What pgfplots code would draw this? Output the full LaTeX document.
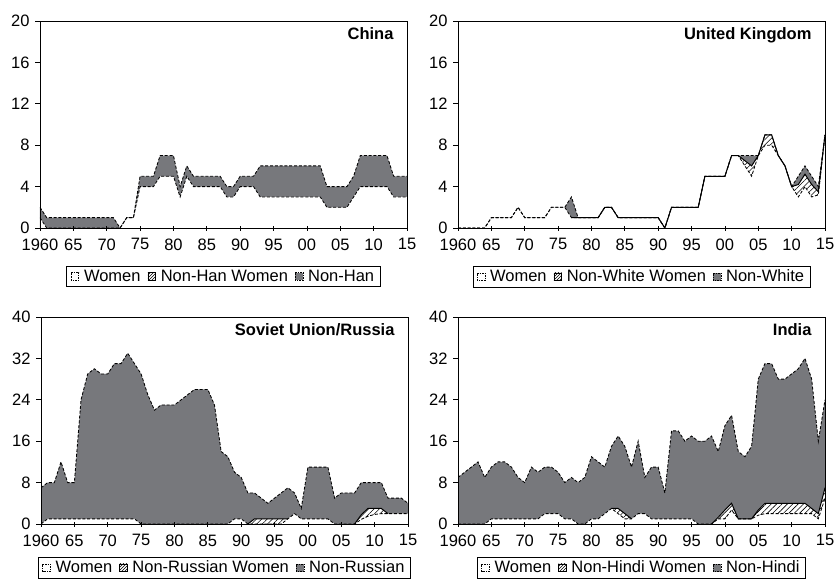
\documentclass[border=0pt]{standalone}
\usepackage{fontspec}
\setmainfont{Liberation Sans}
\usepackage{pgfplots}
\pgfplotsset{compat=1.18}
\usepackage{pgfplotstable}
\usetikzlibrary{patterns,patterns.meta}
\definecolor{ngray}{RGB}{119,120,124}
\newcommand\lf{\fontsize{16.5}{19}\selectfont}

\pgfplotstableread{
year G W
1960 2 1
1961 1 0
1962 1 0
1963 1 0
1964 1 0
1965 1 0
1966 1 0
1967 1 0
1968 1 0
1969 1 0
1970 1 0
1971 1 0
1972 0 0
1973 1 1
1974 1 1
1975 5 4
1976 5 4
1977 5 4
1978 7 5
1979 7 5
1980 7 5
1981 4 3
1982 6 5
1983 5 4
1984 5 4
1985 5 4
1986 5 4
1987 5 4
1988 4 3
1989 4 3
1990 5 4
1991 5 4
1992 5 4
1993 6 3
1994 6 3
1995 6 3
1996 6 3
1997 6 3
1998 6 3
1999 6 3
2000 6 3
2001 6 3
2002 6 3
2003 4 2
2004 4 2
2005 4 2
2006 4 2
2007 5 3
2008 7 4
2009 7 4
2010 7 4
2011 7 4
2012 7 4
2013 5 3
2014 5 3
2015 5 3
}\china

\pgfplotstableread{
year G W
1960 0 0
1961 0 0
1962 0 0
1963 0 0
1964 0 0
1965 1 1
1966 1 1
1967 1 1
1968 1 1
1969 2 2
1970 1 1
1971 1 1
1972 1 1
1973 1 1
1974 2 2
1975 2 2
1976 2 2
1977 3 1
1978 1 1
1979 1 1
1980 1 1
1981 1 1
1982 2 2
1983 2 2
1984 1 1
1985 1 1
1986 1 1
1987 1 1
1988 1 1
1989 1 1
1990 1 1
1991 0 0
1992 2 2
1993 2 2
1994 2 2
1995 2 2
1996 2 2
1997 5 5
1998 5 5
1999 5 5
2000 5 5
2001 7 7
2002 7 7
2003 7 6
2004 7 5
2005 7 7
2006 9 8
2007 9 8
2008 7 7
2009 6 6
2010 4 4
2011 5 3
2012 6 4
2013 5 3
2014 4 3.2
2015 9 9
}\uk

\pgfplotstableread{
year G W
1960 7 0
1961 8 1
1962 8 1
1963 12 1
1964 8 1
1965 8 1
1966 24 1
1967 29 1
1968 30 1
1969 29 1
1970 29 1
1971 31 1
1972 31 1
1973 33 1
1974 31 1
1975 29 0
1976 25 0
1977 22 0
1978 23 0
1979 23 0
1980 23 0
1981 24 0
1982 25 0
1983 26 0
1984 26 0
1985 26 0
1986 23 0
1987 14 0
1988 13 0
1989 10 1
1990 9 1
1991 6 0
1992 6 0
1993 5 0
1994 4 0
1995 5 0
1996 6 0
1997 7 1
1998 6 2
1999 3 1
2000 11 1
2001 11 1
2002 11 1
2003 11 1
2004 5 0
2005 6 0
2006 6 0
2007 6 0
2008 8 0.9
2009 8 1.5
2010 8 1.85
2011 8 2
2012 5 2
2013 5 2
2014 5 2
2015 4 2
}\russia

\pgfplotstableread{
year G W
1960 9 0
1961 10 0
1962 11 0
1963 12 0
1964 9 0
1965 11 1
1966 12 1
1967 12 1
1968 11 1
1969 9 1
1970 8 1
1971 11 1
1972 10 1
1973 11 2
1974 11 2
1975 10 2
1976 8 1
1977 9 1
1978 8 0
1979 9 0
1980 13 1
1981 12 1
1982 11 2
1983 15 3
1984 17 2
1985 15 1
1986 11 1
1987 16 2
1988 9 2
1989 11 1
1990 11 1
1991 6 1
1992 18 1
1993 18 1
1994 16 1
1995 17 1
1996 16 0
1997 16 0
1998 17 0
1999 14 1
2000 19 1
2001 21 2.7
2002 14 1
2003 13 1
2004 15 1
2005 28 1.7
2006 31 2
2007 31 2
2008 28 2
2009 28 2
2010 29 2
2011 30 2
2012 32 2
2013 28 2
2014 16 1
2015 24 5
}\india

\pgfplotsset{
 panel/.style={scale only axis, width=367pt, height=207pt,
   xmin=1960, xmax=2015, ymin=0, axis on top,
   tick pos=left, tick align=outside, major tick length=5pt,
   xtick={1960,1965,...,2015},
   xticklabels={1960,65,70,75,80,85,90,95,00,05,10,15},
   tick label style={font=\lf},
   xticklabel style={yshift=-2pt},
   yticklabel style={xshift=-2pt},
   /pgf/number format/assume math mode=true,
   axis line style={line width=0.8pt},
   every tick/.style={black, line width=0.8pt},
   xtick style={yshift=2.5pt},
   legend columns=3,
   legend style={anchor=north, draw=black, line width=0.8pt, font=\lf,
     inner xsep=4pt, inner ysep=1.5pt,
     /tikz/every odd column/.append style={column sep=3pt},
     /tikz/every even column/.append style={column sep=5pt}},
   legend cell align=left},
 gfill/.style={draw=none, fill=ngray, forget plot},
 wfill/.style={draw=none, fill=white, forget plot},
 hfill/.style={draw=none, fill=white, postaction={pattern={Lines[angle=45,distance=3.8pt,line width=0.55pt]}}, forget plot},
 dline/.style={black, line width=0.85pt, dash pattern=on 3pt off 1.8pt, forget plot},
 sline/.style={black, line width=1pt, forget plot},
 sqleg/.style={legend image code/.code={\draw[##1] (0pt,-3.8pt) rectangle (7.6pt,3.8pt);}},
}

\newcommand\legs[2]{%
  \addlegendimage{sqleg, fill=white, draw=black, line width=0.6pt, dash pattern=on 1.5pt off 1pt}
  \addlegendentry{Women}
  \addlegendimage{sqleg, fill=white, draw=black, line width=0.6pt, postaction={pattern=north east lines}}
  \addlegendentry{#1}
  \addlegendimage{sqleg, fill=ngray, draw=black, line width=0.6pt, dash pattern=on 1.5pt off 1pt}
  \addlegendentry{#2}
}

\begin{document}
\begin{tikzpicture}
\useasboundingbox (0,0) rectangle (835pt,582pt);

% China
\begin{axis}[panel, at={(40pt,354pt)}, anchor=south west, ymax=20, ytick={0,4,...,20},
  legend style={at={(0.5,-0.184)}}]
\legs{Non-Han Women}{Non-Han}
\addplot[gfill] table[x=year,y=G]{\china} \closedcycle;
\addplot[wfill] table[x=year,y=W]{\china} \closedcycle;
\addplot[dline] table[x=year,y=G]{\china};
\addplot[dline] table[x=year,y=W]{\china};
\node[anchor=base east, font=\bfseries\lf, xshift=-10pt, yshift=-18pt] at (rel axis cs:1,1) {China};
\end{axis}

% UK
\begin{axis}[panel, at={(458pt,354pt)}, anchor=south west, ymax=20, ytick={0,4,...,20},
  legend style={at={(0.5,-0.184)}}]
\legs{Non-White Women}{Non-White}
\addplot[gfill] table[x=year,y=G]{\uk} \closedcycle;
\addplot[hfill] coordinates {(1977,1)(1978,1)(1979,1)(1980,1)(1981,1)(1982,2)(1983,2)(1984,1)(1985,1)(1986,1)(1987,1)(1988,1)(1989,1)(1990,1)(1991,0)(1992,2)(1993,2)(1994,2)(1995,2)(1996,2)(1997,5)(1998,5)(1999,5)(2000,5)(2001,7)(2002,7)(2003,6.5)(2004,6)(2005,7)(2006,9)(2007,9)(2008,7)(2009,6)(2010,4)(2011,4.2)(2012,5.2)(2013,4.2)(2014,3.5)(2015,9)} \closedcycle;
\addplot[wfill] table[x=year,y=W]{\uk} \closedcycle;
\addplot[dline] table[x=year,y=G]{\uk};
\addplot[dline] table[x=year,y=W]{\uk};
\addplot[sline] coordinates {(1977,1)(1978,1)(1979,1)(1980,1)(1981,1)(1982,2)(1983,2)(1984,1)(1985,1)(1986,1)(1987,1)(1988,1)(1989,1)(1990,1)(1991,0)(1992,2)(1993,2)(1994,2)(1995,2)(1996,2)(1997,5)(1998,5)(1999,5)(2000,5)(2001,7)(2002,7)(2003,6.5)(2004,6)(2005,7)(2006,9)(2007,9)(2008,7)(2009,6)(2010,4)(2011,4.2)(2012,5.2)(2013,4.2)(2014,3.5)(2015,9)};
\node[anchor=base east, font=\bfseries\lf, xshift=-10pt, yshift=-18pt] at (rel axis cs:1,1) {United Kingdom};
\end{axis}

% Russia
\begin{axis}[panel, at={(41pt,58pt)}, anchor=south west, ymax=40, ytick={0,8,...,40},
  legend style={at={(0.5,-0.16)}}]
\legs{Non-Russian Women}{Non-Russian}
\addplot[gfill] table[x=year,y=G]{\russia} \closedcycle;
\addplot[hfill] coordinates {(1991,0)(1992,1)(1993,1)(1994,1)(1995,1)(1996,1)(1997,1)} \closedcycle;
\addplot[hfill] coordinates {(2007,0)(2008,1.8)(2009,3)(2010,3)(2011,3)(2012,2)} \closedcycle;
\addplot[wfill] table[x=year,y=W]{\russia} \closedcycle;
\addplot[dline] table[x=year,y=G]{\russia};
\addplot[dline] table[x=year,y=W]{\russia};
\addplot[sline] coordinates {(1991,0)(1992,1)(1993,1)(1994,1)(1995,1)(1996,1)(1997,1)};
\addplot[sline] coordinates {(2007,0)(2008,1.8)(2009,3)(2010,3)(2011,3)(2012,2)};
\node[anchor=base east, font=\bfseries\lf, xshift=-10pt, yshift=-18pt] at (rel axis cs:1,1) {Soviet Union/Russia};
\end{axis}

% India
\begin{axis}[panel, at={(458pt,58pt)}, anchor=south west, ymax=40, ytick={0,8,...,40},
  legend style={at={(0.5,-0.16)}}]
\legs{Non-Hindi Women}{Non-Hindi}
\addplot[gfill] table[x=year,y=G]{\india} \closedcycle;
\addplot[hfill] coordinates {(1983,3)(1984,3)(1985,2)(1986,1)} \closedcycle;
\addplot[hfill] coordinates {(1998,0)(1999,1.3)(2000,2.7)(2001,4)(2002,1)(2003,1)(2004,1)(2005,2.7)(2006,4)(2007,4)(2008,4)(2009,4)(2010,4)(2011,4)(2012,4)(2013,3)(2014,2)(2015,7)} \closedcycle;
\addplot[wfill] table[x=year,y=W]{\india} \closedcycle;
\addplot[dline] table[x=year,y=G]{\india};
\addplot[dline] table[x=year,y=W]{\india};
\addplot[sline] coordinates {(1983,3)(1984,3)(1985,2)(1986,1)};
\addplot[sline] coordinates {(1998,0)(1999,1.3)(2000,2.7)(2001,4)(2002,1)(2003,1)(2004,1)(2005,2.7)(2006,4)(2007,4)(2008,4)(2009,4)(2010,4)(2011,4)(2012,4)(2013,3)(2014,2)(2015,7)};
\node[anchor=base east, font=\bfseries\lf, xshift=-10pt, yshift=-18pt] at (rel axis cs:1,1) {India};
\end{axis}
\end{tikzpicture}
\end{document}
